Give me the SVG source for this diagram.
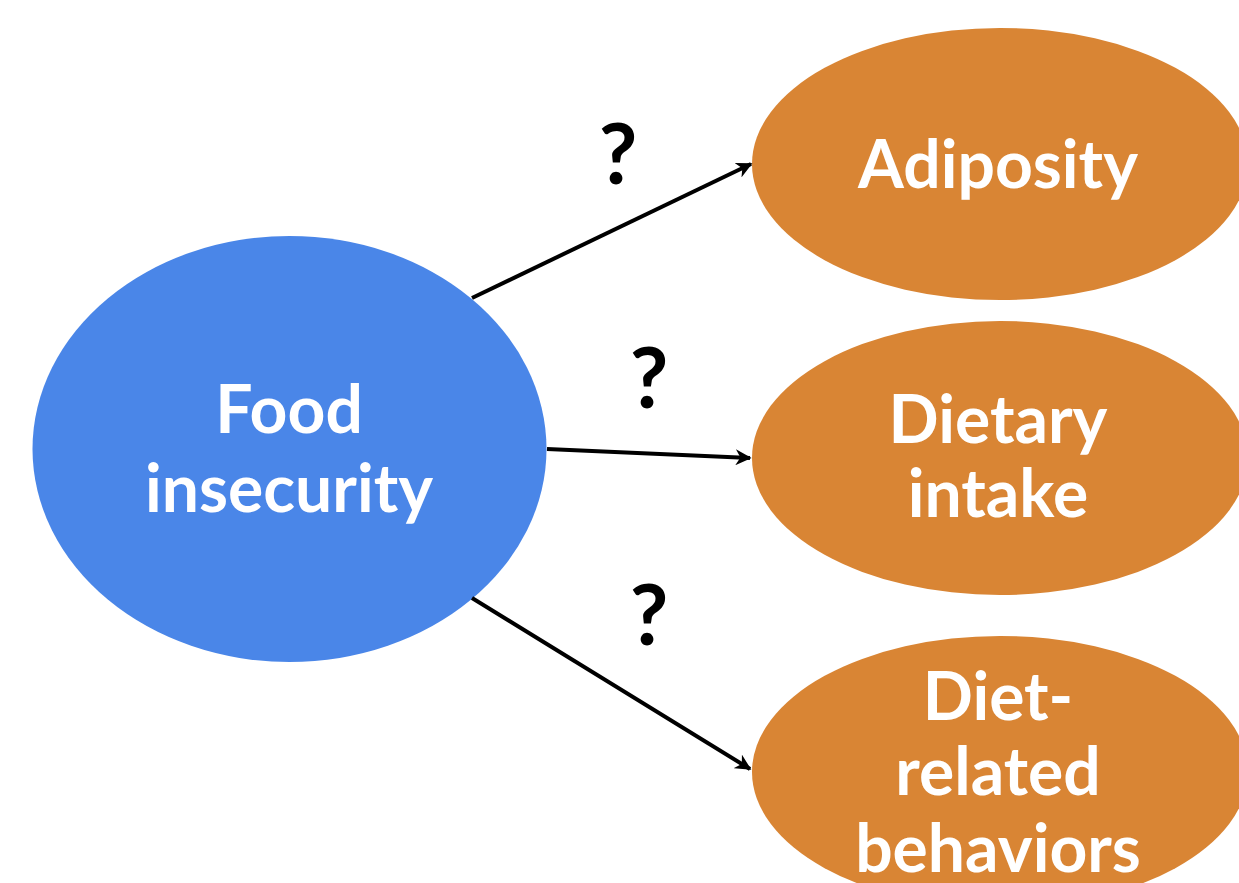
<svg xmlns="http://www.w3.org/2000/svg" width="1239" height="883" viewBox="0 0 1239 883">
<style>
.lbl{font-family:Lato,"Open Sans","Liberation Sans",sans-serif;font-weight:700;font-size:66px;fill:#ffffff;text-anchor:middle}
.q{font-family:Lato,"Open Sans","Liberation Sans",sans-serif;font-weight:700;font-size:84px;fill:#000000;text-anchor:middle}
.edge{stroke:#000;stroke-width:4;fill:none;marker-end:url(#ah)}
.out{fill:#D98534}
</style>
<defs>
<marker id="ah" viewBox="0 0 10 10" refX="9" refY="5" markerWidth="4" markerHeight="4" orient="auto" markerUnits="strokeWidth">
<path d="M0,0 L10,5 L0,10 L3,5 Z" fill="#000"/>
</marker>
</defs>
<rect width="1239" height="883" fill="#ffffff"/>
<g id="node-food">
<ellipse cx="289.5" cy="449" rx="257" ry="213" fill="#4A86E8"/>
<text class="lbl" x="289" y="433">Food</text>
<text class="lbl" x="289" y="512">insecurity</text>
</g>
<g id="node-adiposity">
<ellipse class="out" cx="1000" cy="164" rx="248" ry="136"/>
<text class="lbl" x="998" y="188">Adiposity</text>
</g>
<g id="node-dietary">
<ellipse class="out" cx="1000" cy="458" rx="248" ry="137"/>
<text class="lbl" x="998" y="443">Dietary</text>
<text class="lbl" x="998" y="517">intake</text>
</g>
<g id="node-behaviors">
<ellipse class="out" cx="1000" cy="772" rx="248" ry="136"/>
<text class="lbl" x="998" y="720">Diet-</text>
<text class="lbl" x="998" y="795">related</text>
<text class="lbl" x="998" y="872">behaviors</text>
</g>
<g id="connectors">
<line class="edge" x1="472" y1="298" x2="751" y2="164"/>
<line class="edge" x1="547" y1="449" x2="750" y2="458"/>
<line class="edge" x1="472" y1="598" x2="750" y2="769"/>
<text class="q" x="618" y="184">?</text>
<text class="q" x="649" y="408">?</text>
<text class="q" x="649" y="645">?</text>
</g>
</svg>
